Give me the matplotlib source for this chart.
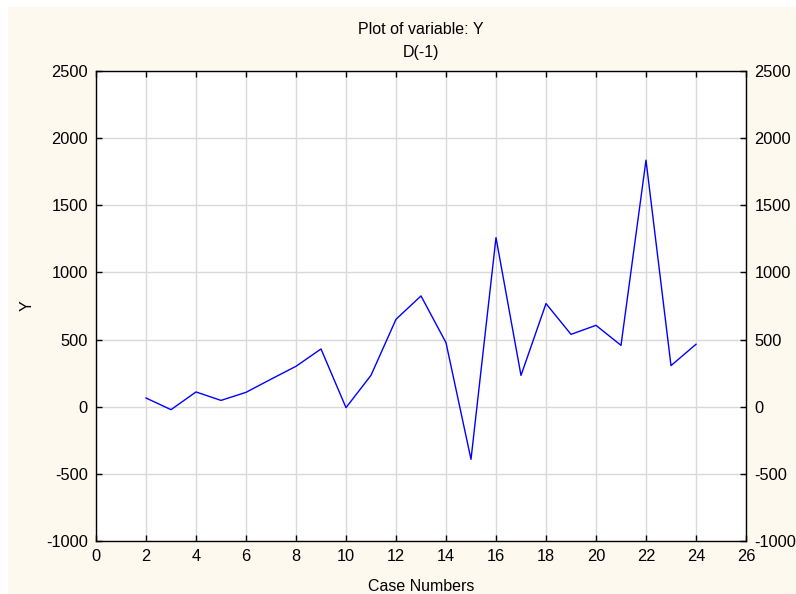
import matplotlib.pyplot as plt
from matplotlib.patches import Rectangle

# Case numbers and the D(-1) values of Y
cases = list(range(2, 25))
y_values = [65, -22, 110, 47, 107, 205, 301, 430, -7, 234,
            651, 825, 477, -392, 1259, 233, 768, 539, 606, 457,
            1836, 306, 465]

x_ticks = list(range(0, 27, 2))
y_ticks = list(range(-1000, 2501, 500))

plt.rcParams['font.family'] = ['Liberation Sans', 'DejaVu Sans']
plt.rcParams['axes.unicode_minus'] = False

fig = plt.figure(figsize=(7.96, 5.94), dpi=100, facecolor="white")
# cream panel with a thin white strip at top and left
fig.patches.append(Rectangle((8 / 796, 0), 1, 1 - 7 / 594, transform=fig.transFigure,
                             facecolor="#fdf9ee", edgecolor="none", zorder=-1))

ax = fig.add_axes([96 / 796, 1 - 541 / 594, 650 / 796, 470 / 594])
ax.set_facecolor("white")
ax.plot(cases, y_values, color="#0000ff", lw=1.0)

ax.set_xlim(0, 26)
ax.set_ylim(-1000, 2500)
ax.set_xticks(x_ticks)
ax.set_yticks(y_ticks)
ax.grid(True, color="#d9d9d9", lw=1.0)
ax.set_axisbelow(True)

ax.tick_params(direction="in", length=4, width=1, top=True, right=True,
               labelright=True, labelsize=11.8, pad=6, colors="black")
for s in ax.spines.values():
    s.set_linewidth(1.0)

ax.set_xlabel("Case Numbers", fontsize=11.5, va="baseline")
ax.xaxis.set_label_coords(0.5, (541 - 591) / 470)
ax.set_ylabel("Y", fontsize=11.5, va="center")
ax.yaxis.set_label_coords((27 - 96) / 650, 0.5)

cx = 0.5 * (96 + 746) / 796
fig.text(cx, 1 - 34 / 594, "Plot of variable: Y", ha="center", va="baseline", fontsize=11.5)
fig.text(cx, 1 - 57.5 / 594, "D(-1)", ha="center", va="baseline", fontsize=11.5)

fig.savefig("out.png", dpi=100, facecolor=fig.get_facecolor())
